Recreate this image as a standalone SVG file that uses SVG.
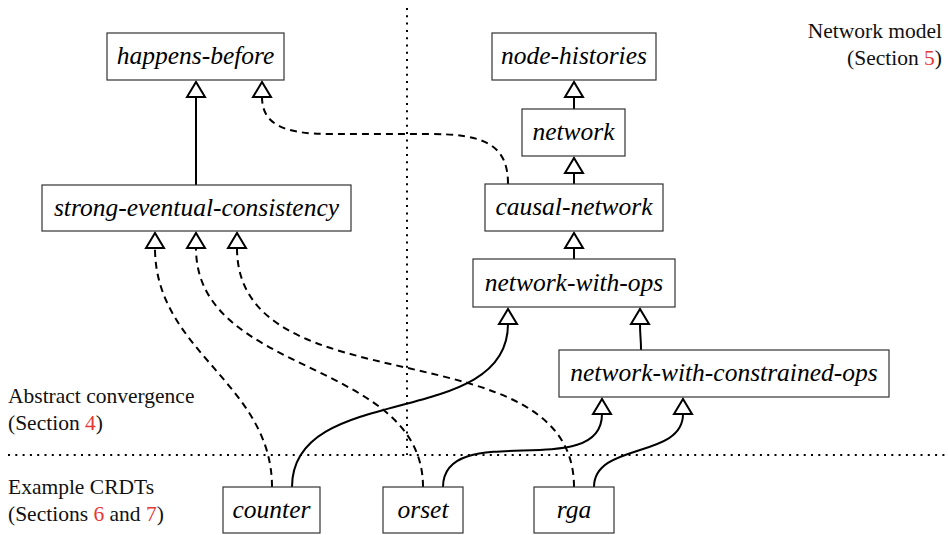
<svg xmlns="http://www.w3.org/2000/svg" width="948" height="535" viewBox="0 0 948 535">
<style>
.box{fill:#fff;stroke:#333;stroke-width:1.2}
.lbl{font-family:"Liberation Serif","Times New Roman",serif;font-style:italic;font-size:25.5px;text-anchor:middle;fill:#000}
.cap{font-family:"Liberation Serif","Times New Roman",serif;font-size:21.5px;fill:#111}
.ref{fill:#e53935}
.edge{fill:none;stroke:#000;stroke-width:2;marker-end:url(#tri)}
.dash{stroke-dasharray:7 5}
.dot{fill:none;stroke:#000;stroke-width:2;stroke-dasharray:2 5.3}
</style>
<defs>
<marker id="tri" markerUnits="userSpaceOnUse" viewBox="-3 -12 22 24" markerWidth="22" markerHeight="24" refX="0" refY="0" orient="auto">
<path d="M0,-9 L15,0 L0,9 Z" fill="#fff" stroke="#000" stroke-width="2" stroke-dasharray="none"/>
</marker>
</defs>
<g id="separators">
<path class="dot" d="M407,8 L407,455"/>
<path class="dot" d="M8,455 L946,455"/>
</g>
<g id="captions">
<text class="cap" x="942" y="38" text-anchor="end">Network model</text>
<text class="cap" x="942" y="65" text-anchor="end">(Section <tspan class="ref">5</tspan>)</text>
<text class="cap" x="8" y="403">Abstract convergence</text>
<text class="cap" x="8" y="430">(Section <tspan class="ref">4</tspan>)</text>
<text class="cap" x="8" y="494">Example CRDTs</text>
<text class="cap" x="8" y="521">(Sections <tspan class="ref">6</tspan> and <tspan class="ref">7</tspan>)</text>
</g>
<g id="connectors">
<path class="edge" d="M196,185 L196,97"/>
<path class="edge dash" d="M508,184 C508,145 485,134 430,134 L330,134 C285,134 262,125 262,97"/>
<path class="edge" d="M574,109 L574,97"/>
<path class="edge" d="M574,184 L574,173"/>
<path class="edge" d="M574,259 L574,248"/>
<path class="edge" d="M641,350 C641,338 640,336 640,324"/>
<path class="edge" d="M292,487 C292,381 508,430 508,324"/>
<path class="edge dash" d="M272,487 C272,383 155,352 155,248"/>
<path class="edge dash" d="M423,487 C423,358 196,377 196,248"/>
<path class="edge" d="M443,487 C443,418 602,483 602,414"/>
<path class="edge dash" d="M574,487 C574,325 237,410 237,248"/>
<path class="edge" d="M594,487 C594,442 683,459 683,414"/>
</g>
<g id="happens-before"><rect class="box" x="107" y="33" width="177" height="47"/><text class="lbl" x="195.5" y="64">happens-before</text></g>
<g id="strong-eventual-consistency"><rect class="box" x="42" y="185" width="309" height="46"/><text class="lbl" x="196.5" y="216">strong-eventual-consistency</text></g>
<g id="node-histories"><rect class="box" x="492" y="33" width="164" height="47"/><text class="lbl" x="574" y="64">node-histories</text></g>
<g id="network"><rect class="box" x="522" y="109" width="103" height="47"/><text class="lbl" x="573.5" y="140">network</text></g>
<g id="causal-network"><rect class="box" x="485" y="184" width="178" height="47"/><text class="lbl" x="574" y="215">causal-network</text></g>
<g id="network-with-ops"><rect class="box" x="473" y="259" width="202" height="48"/><text class="lbl" x="574" y="291">network-with-ops</text></g>
<g id="network-with-constrained-ops"><rect class="box" x="559" y="350" width="330" height="47"/><text class="lbl" x="724" y="381">network-with-constrained-ops</text></g>
<g id="counter"><rect class="box" x="223" y="487" width="97" height="46"/><text class="lbl" x="271.5" y="518">counter</text></g>
<g id="orset"><rect class="box" x="383" y="487" width="80" height="46"/><text class="lbl" x="423" y="518">orset</text></g>
<g id="rga"><rect class="box" x="534" y="487" width="80" height="46"/><text class="lbl" x="574" y="518">rga</text></g>
</svg>
